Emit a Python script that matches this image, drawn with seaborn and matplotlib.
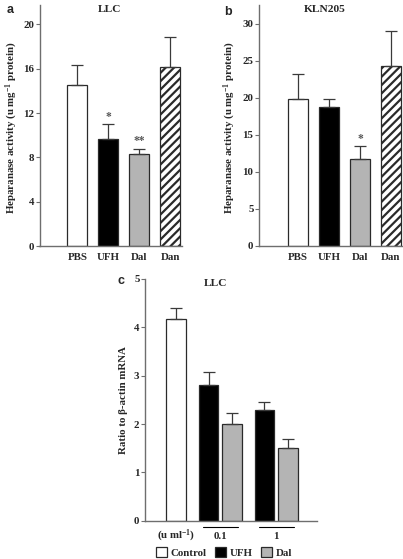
import numpy as np
import pandas as pd
import seaborn as sns
import matplotlib.pyplot as plt
import matplotlib.transforms as mtransforms

# =========================
# DATA
# =========================
a_groups = ["PBS", "UFH", "Dal", "Dan"]
a_mean = [14.5, 9.7, 8.3, 16.2]
a_top = [16.3, 11.0, 8.8, 18.9]
a_stars = ["", "*", "**", ""]

b_groups = ["PBS", "UFH", "Dal", "Dan"]
b_mean = [19.8, 18.7, 11.7, 24.2]
b_top = [23.2, 19.8, 13.4, 29.0]
b_stars = ["", "", "*", ""]

c_treat = ["Control", "UFH", "Dal", "UFH", "Dal"]
c_dose_idx = [0, 1, 1, 2, 2]
c_mean = [4.18, 2.81, 2.01, 2.28, 1.50]
c_top = [4.40, 3.07, 2.22, 2.46, 1.68]
c_dose_labels = ["(u ml$^{-1}$)", "0.1", "1"]

# =========================
# STYLE
# =========================
sns.set_theme(style="ticks")
plt.rcParams["font.family"] = ["Liberation Serif", "DejaVu Serif"]
plt.rcParams["font.weight"] = "bold"
plt.rcParams["axes.labelweight"] = "bold"
plt.rcParams["mathtext.fontset"] = "custom"
plt.rcParams["mathtext.rm"] = "Liberation Serif:bold"
plt.rcParams["mathtext.bf"] = "Liberation Serif:bold"
plt.rcParams["mathtext.it"] = "Liberation Serif:bold:italic"
plt.rcParams["hatch.linewidth"] = 1.6

FS = 7.8
SPINE = "#6e6e6e"
EDGE = "#2a2a2a"
ERR = "#3a3a3a"
colors = {"PBS": "white", "UFH": "black", "Dal": "#b4b4b4", "Dan": "white",
          "Control": "white"}

fig = plt.figure(figsize=(4.03, 5.59), dpi=100)
W, H = 403.0, 559.0


def px_axes(x0, x1, ytop, ybot):
    return fig.add_axes([x0 / W, 1 - ybot / H, (x1 - x0) / W, (ybot - ytop) / H])


def style_axis(ax):
    sns.despine(ax=ax)
    for s in ("left", "bottom"):
        ax.spines[s].set_color(SPINE)
        ax.spines[s].set_linewidth(1.0)
    ax.tick_params(axis="y", direction="out", length=3, width=0.8,
                   color=SPINE, labelsize=FS, pad=1)
    ax.tick_params(axis="x", length=0, labelsize=FS, pad=5)
    for lab in ax.get_xticklabels() + ax.get_yticklabels():
        lab.set_fontweight("bold")


def activity_panel(ax, groups, mean, top, stars, ylim, yticks, xlim, title, tx):
    df = pd.DataFrame({"group": groups, "value": mean})
    sns.barplot(data=df, x="group", y="value", hue="group", palette=colors,
                width=0.645, edgecolor=EDGE, linewidth=0.9, errorbar=None,
                legend=False, ax=ax)
    ax.patches[groups.index("Dan")].set_hatch("////")
    err = np.array(top) - np.array(mean)
    xs = np.arange(len(groups))
    ax.errorbar(xs, mean, yerr=[np.zeros_like(err), err], fmt="none",
                ecolor=ERR, elinewidth=0.9, capsize=4, capthick=0.9, zorder=1)
    for x, t, s in zip(xs, top, stars):
        if s:
            ax.annotate(s, (x, t), xytext=(0, 1), textcoords="offset points",
                        ha="center", va="bottom", fontsize=FS + 0.5,
                        color="#555555")
    ax.set_xlim(*xlim)
    ax.set_ylim(*ylim)
    ax.set_yticks(yticks)
    ax.set_xlabel("")
    ax.set_ylabel("Heparanase activity (u mg$^{-1}$ protein)", fontsize=FS)
    fig.text(tx / W, 1 - 10 / H, title, ha="center", va="center",
             fontsize=FS + 0.4, fontweight="bold")
    style_axis(ax)


# =========================
# PANEL a
# =========================
ax_a = px_axes(39.5, 182, 4.5, 246)
activity_panel(ax_a, a_groups, a_mean, a_top, a_stars, (0, 21.8),
               [0, 4, 8, 12, 16, 20], (-1.22, 3.38), "LLC", 110)
ax_a.yaxis.set_label_coords(-0.14, 0.49)

# =========================
# PANEL b
# =========================
ax_b = px_axes(259, 403, 5, 245.7)
activity_panel(ax_b, b_groups, b_mean, b_top, b_stars, (0, 32.5),
               [0, 5, 10, 15, 20, 25, 30], (-1.27, 3.39), "KLN205", 325)
ax_b.yaxis.set_label_coords(-0.145, 0.49)

# =========================
# PANEL c
# =========================
ax_c = px_axes(145, 316.7, 279, 520.7)
group_gap = 0.385
pos = np.arange(len(c_treat)) + group_gap * np.array(c_dose_idx)
df_c = pd.DataFrame({"pos": pos, "value": c_mean, "treatment": c_treat})
sns.barplot(data=df_c, x="pos", y="value", hue="treatment",
            hue_order=["Control", "UFH", "Dal"], palette=colors,
            native_scale=True, dodge=False, width=0.83, edgecolor=EDGE,
            linewidth=0.9, errorbar=None, ax=ax_c)
c_err = np.array(c_top) - np.array(c_mean)
ax_c.errorbar(pos, c_mean, yerr=[np.zeros_like(c_err), c_err], fmt="none",
              ecolor=ERR, elinewidth=0.9, capsize=4, capthick=0.9, zorder=1)
ax_c.set_xlim(-1.33, 6.0)
ax_c.set_ylim(0, 5)
ax_c.set_yticks([0, 1, 2, 3, 4, 5])
ax_c.set_xlabel("")
ax_c.set_ylabel("Ratio to β-actin mRNA", fontsize=FS)
ax_c.yaxis.set_label_coords(-0.10, 0.5)

dose_idx = np.array(c_dose_idx)
centers = [pos[dose_idx == d].mean() for d in range(len(c_dose_labels))]
ax_c.set_xticks(centers)
ax_c.set_xticklabels(c_dose_labels)
style_axis(ax_c)
ax_c.tick_params(axis="x", pad=13)
for lab in ax_c.get_xticklabels():
    lab.set_va("baseline")

trans = mtransforms.blended_transform_factory(ax_c.transData, ax_c.transAxes)
half_bar = 0.83 / 2
for d in range(1, len(c_dose_labels)):
    p = pos[dose_idx == d]
    ax_c.plot([p.min() - half_bar + 0.17, p.max() + half_bar - 0.17],
              [-0.025, -0.025], color="black", lw=0.8, transform=trans,
              clip_on=False)

fig.text(216 / W, 1 - 283 / H, "LLC", ha="center", va="center",
         fontsize=FS + 0.4, fontweight="bold")

sns.move_legend(ax_c, "center", bbox_to_anchor=(0.46, -0.132), ncol=3,
                frameon=False, title=None, fontsize=FS,
                handlelength=1.0, handleheight=1.0, handletextpad=0.35,
                columnspacing=0.8, borderpad=0)
for lab in ax_c.get_legend().get_texts():
    lab.set_fontweight("bold")
for h in ax_c.get_legend().get_patches():
    h.set_edgecolor(EDGE)
    h.set_linewidth(0.9)

# panel letters
for letter, x, y in [("a", 10, 10), ("b", 228, 12), ("c", 121, 281)]:
    fig.text(x / W, 1 - y / H, letter, ha="center", va="center", fontsize=9,
             fontweight="bold", family="Liberation Sans")

fig.savefig("out.png", dpi=100)
